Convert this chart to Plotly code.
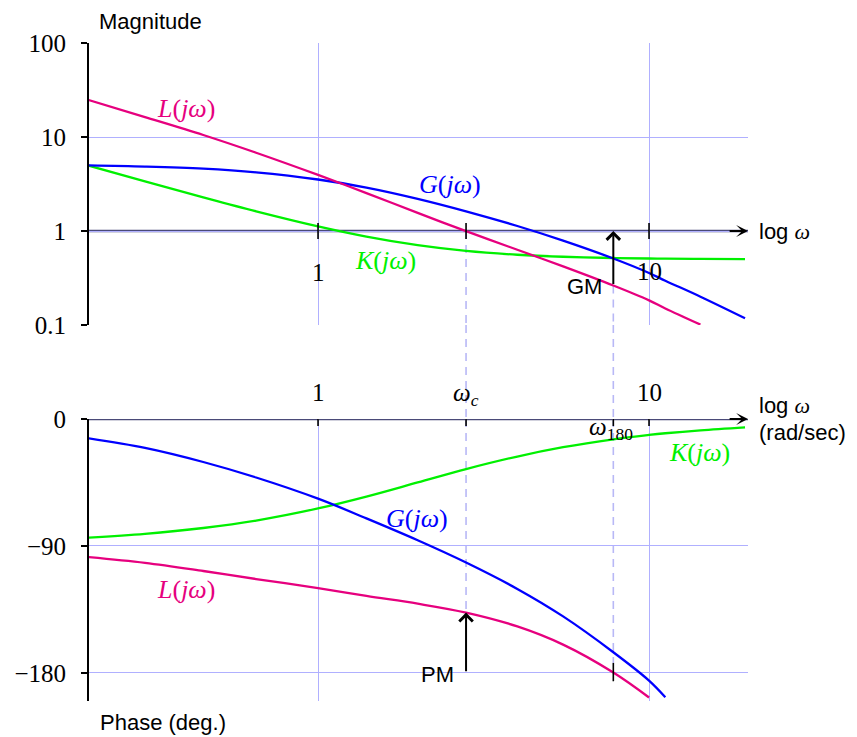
import math
import plotly.graph_objects as go

# ---------------- data ----------------
# frequencies (rad/sec) shared by all curves
w_mag = [0.2, 0.3, 0.45, 0.65, 1.0, 1.4, 2.0, 2.8, 4.0, 5.5, 7.8, 10, 11.2, 14.3, 19.5]
G_mag = [5.0, 4.85, 4.6, 4.2, 3.53, 2.9, 2.2, 1.62, 1.13, 0.79, 0.51, 0.358, 0.296, 0.2, 0.118]
K_mag = [5.03, 3.37, 2.28, 1.62, 1.12, 0.872, 0.707, 0.614, 0.559, 0.532, 0.516, 0.51, 0.508, 0.505, 0.503]
L_mag = [25.1, 16.3, 10.5, 6.8, 3.95, 2.53, 1.56, 0.995, 0.632, 0.42, 0.263, 0.183, 0.15, 0.101]

w_ph = [0.2, 0.3, 0.45, 0.65, 1.0, 1.4, 2.0, 2.8, 4.0, 5.5, 7.8, 10, 11.2, 14.3, 19.5]
G_ph = [-13.5, -20.5, -30.5, -41.5, -56.5, -70.5, -86, -101.8, -120.5, -140, -165.4, -185.5, -197.3]
K_ph = [-84.3, -81.5, -77.3, -72.0, -63.4, -55.0, -45, -35.5, -26.6, -20.0, -14.4, -11.3, -10.1, -8.0, -5.9]
L_ph = [-97.8, -102, -107.8, -113.5, -119.9, -125.5, -131, -137.3, -147.1, -160, -179.8, -197.5]

w_c = 2.8         # crossover frequency
w_180 = 7.8       # phase crossover frequency
L_at_wc = -137.3  # phase of L at w_c
L_at_w180 = 0.263 # |L| at w_180

mag_ticks = [0.1, 1, 10, 100]
mag_ticklabels = ["0.1", "1", "10", "100"]
ph_ticks = [0, -90, -180]
ph_ticklabels = ["0", "\u221290", "\u2212180"]

# ---------------- style ----------------
OFF = 8                      # the page body has an 8px margin
W, H = 857 - OFF, 737 - OFF  # figure size inside the window

def px(xp):                  # window pixel -> paper x
    return (xp - OFF) / W

def py(yp):                  # window pixel -> paper y
    return 1 - (yp - OFF) / H

X_RANGE = [-0.692, 1.299]
X_DOMAIN = [px(89), px(748)]
TOP_DOMAIN = [py(325), py(43)]
BOT_DOMAIN = [py(701), py(419)]
PH_RANGE = [-200, 0]
MAG_RANGE = [-1, 2]

CL = "#e6007e"
CG = "#0000ff"
CK = "#00f000"
GRID = "#b0b0ff"
AXC = "#4a4a78"
DASH = "#b8b8f6"
SERIF = "Liberation Serif"
SANS = "Liberation Sans"
SANS_SIZE = 22
NUM_SIZE = 25
MATH_SIZE = 26

fig = go.Figure()

def curve(x, y, color, xa, ya):
    fig.add_trace(go.Scatter(x=x[:len(y)], y=y, xaxis=xa, yaxis=ya, mode="lines",
                             line=dict(color=color, width=2.3, shape="spline", smoothing=1.0),
                             hoverinfo="skip", showlegend=False))

curve(w_mag, K_mag, CK, "x", "y")
curve(w_mag, G_mag, CG, "x", "y")
curve(w_mag, L_mag, CL, "x", "y")
curve(w_ph, K_ph, CK, "x2", "y2")
curve(w_ph, G_ph, CG, "x2", "y2")
curve(w_ph, L_ph, CL, "x2", "y2")

xcommon = dict(type="log", range=X_RANGE, domain=X_DOMAIN, tickvals=[1, 10],
               showticklabels=False, ticks="", showgrid=True, gridcolor=GRID,
               gridwidth=1.3, zeroline=False, showline=False, automargin=False)
ycommon = dict(ticks="outside", ticklen=6, tickwidth=1.6, tickcolor="black",
               showline=True, linecolor="black", linewidth=1.8, showgrid=True,
               gridcolor=GRID, gridwidth=1.3, zeroline=False, automargin=False,
               tickfont=dict(family=SERIF, size=NUM_SIZE, color="black"),
               ticklabelstandoff=10)

fig.update_layout(
    width=W, height=H, margin=dict(l=0, r=0, t=0, b=0, pad=0, autoexpand=False),
    paper_bgcolor="white", plot_bgcolor="white",
    xaxis=dict(anchor="y", **xcommon),
    xaxis2=dict(anchor="y2", **xcommon),
    yaxis=dict(type="log", range=MAG_RANGE, domain=TOP_DOMAIN, anchor="x",
               tickvals=mag_ticks, ticktext=mag_ticklabels, **ycommon),
    yaxis2=dict(range=PH_RANGE, domain=BOT_DOMAIN, anchor="x2",
                tickvals=ph_ticks, ticktext=ph_ticklabels, **ycommon),
)

xl, xr = 10 ** X_RANGE[0], 10 ** X_RANGE[1]
shapes = []
# horizontal axes
shapes.append(dict(type="line", xref="x", yref="y", x0=xl, x1=xr, y0=1, y1=1,
                   line=dict(color=AXC, width=2.4), layer="below"))
shapes.append(dict(type="line", xref="x2", yref="y2", x0=xl, x1=xr, y0=0, y1=0,
                   line=dict(color=AXC, width=2.4), layer="below"))
# ticks on the horizontal axes
dm = 10 ** 0.085
for w in [1, w_c, 10]:
    shapes.append(dict(type="line", xref="x", yref="y", x0=w, x1=w, y0=1 / dm, y1=dm,
                       line=dict(color="black", width=1.6)))
for w in [1, w_c, w_180, 10]:
    shapes.append(dict(type="line", xref="x2", yref="y2", x0=w, x1=w, y0=-5, y1=5,
                       line=dict(color="black", width=1.6)))
shapes.append(dict(type="line", xref="x2", yref="y2", x0=w_180, x1=w_180, y0=-186, y1=-173,
                   line=dict(color="black", width=1.6)))
# dashed guides
dash = dict(color=DASH, width=1.6, dash="8px,6px")
for w, ytop in [(w_c, 1), (w_180, L_at_w180)]:
    shapes.append(dict(type="line", xref="x", yref="y", x0=w, x1=w, y0=ytop, y1=10 ** MAG_RANGE[0],
                       line=dash, layer="below"))
    shapes.append(dict(type="line", xref="x", yref="paper", x0=w, x1=w,
                       y0=TOP_DOMAIN[0], y1=BOT_DOMAIN[1], line=dash, layer="below"))
shapes.append(dict(type="line", xref="x2", yref="y2", x0=w_c, x1=w_c, y0=0, y1=L_at_wc,
                   line=dash, layer="below"))
shapes.append(dict(type="line", xref="x2", yref="y2", x0=w_180, x1=w_180, y0=0, y1=-173,
                   line=dash, layer="below"))
fig.update_layout(shapes=shapes)

lg = math.log10
ann = []
def text(x, y, s, xref, yref, size=NUM_SIZE, color="black", family=SERIF, xanchor="center",
         yanchor="middle", xshift=0, yshift=0):
    ann.append(dict(x=x, y=y, xref=xref, yref=yref, text=s, showarrow=False,
                    font=dict(family=family, size=size, color=color),
                    xanchor=xanchor, yanchor=yanchor, xshift=xshift, yshift=yshift))

omega = "<span style='font-family:%s'><i>\u03c9</i></span>" % SERIF
def fn(name):
    return "<i>%s</i>(<i>j\u03c9</i>)" % name

# axis arrows
for xa, ya in [("x", "y"), ("x2", "y2")]:
    ann.append(dict(x=X_RANGE[1], y=0, xref=xa, yref=ya, ax=X_RANGE[1] - 0.06, ay=0,
                    axref=xa, ayref=ya, text="", showarrow=True, arrowhead=3,
                    arrowsize=1.1, arrowwidth=1.8, arrowcolor="black"))
# GM and PM arrows
ann.append(dict(x=lg(w_180), y=0, xref="x", yref="y", ax=lg(w_180), ay=lg(L_at_w180),
                axref="x", ayref="y", text="", showarrow=True, arrowhead=4,
                arrowsize=1.3, arrowwidth=2, arrowcolor="black"))
ann.append(dict(x=lg(w_c), y=L_at_wc, xref="x2", yref="y2", ax=lg(w_c), ay=-180,
                axref="x2", ayref="y2", text="", showarrow=True, arrowhead=4,
                arrowsize=1.3, arrowwidth=2, arrowcolor="black"))

# axis texts
text(px(97), py(22), "Magnitude", "paper", "paper", size=SANS_SIZE, family=SANS, xanchor="left")
text(px(98), py(722), "Phase (deg.)", "paper", "paper", size=SANS_SIZE, family=SANS, xanchor="left")
text(X_RANGE[1], 0, "log " + omega, "x", "y", size=SANS_SIZE, family=SANS, xanchor="left", xshift=9)
text(X_RANGE[1], 0, "log " + omega, "x2", "y2", size=SANS_SIZE, family=SANS, xanchor="left", xshift=9, yshift=14)
text(X_RANGE[1], 0, "(rad/sec)", "x2", "y2", size=SANS_SIZE, family=SANS, xanchor="left", xshift=9, yshift=-13)
text(0, 0, "1", "x", "y", yshift=-41)
text(1, 0, "10", "x", "y", yshift=-40)
text(0, 0, "1", "x2", "y2", yshift=27)
text(1, 0, "10", "x2", "y2", yshift=27)
text(lg(w_c), 0, "<i>\u03c9<sub>c</sub></i>", "x2", "y2", yshift=25)
text(lg(w_180), 0, "<i>\u03c9</i><sub>180</sub>", "x2", "y2", yshift=-9, xshift=-2)
text(lg(6.4), lg(0.254), "GM", "x", "y", size=SANS_SIZE, family=SANS)
text(lg(2.29), -181.4, "PM", "x2", "y2", size=SANS_SIZE, family=SANS)

# curve labels
text(lg(0.4), lg(20), fn("L"), "x", "y", size=MATH_SIZE, color=CL)
text(lg(2.5), lg(3.16), fn("G"), "x", "y", size=MATH_SIZE, color=CG)
text(lg(1.6), lg(0.49), fn("K"), "x", "y", size=MATH_SIZE, color=CK)
text(lg(1.99), -70.7, fn("G"), "x2", "y2", size=MATH_SIZE, color=CG)
text(lg(14.2), -23.8, fn("K"), "x2", "y2", size=MATH_SIZE, color=CK)
text(lg(0.4), -121, fn("L"), "x2", "y2", size=MATH_SIZE, color=CL)

fig.update_layout(annotations=ann)
fig.write_html("out.html")
